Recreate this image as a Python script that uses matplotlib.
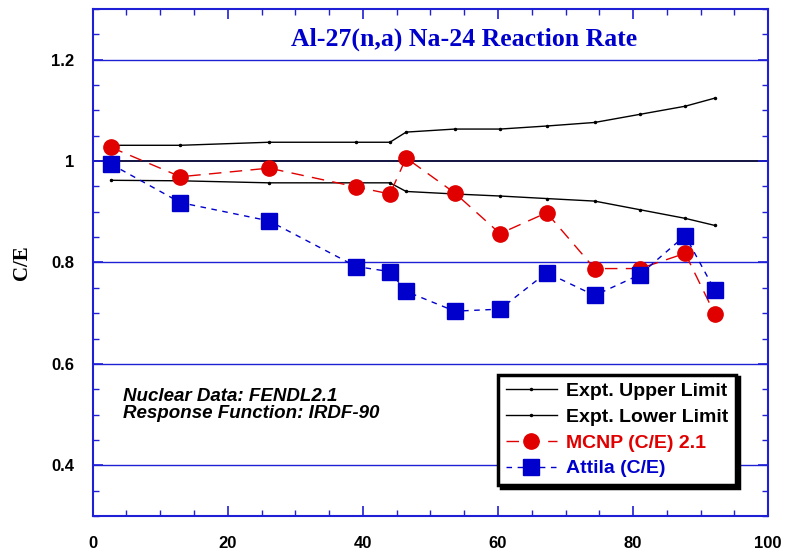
import matplotlib.pyplot as plt
from matplotlib.ticker import MultipleLocator

# position along the x axis
x = [2.7, 13.0, 26.1, 39.0, 44.0, 46.4, 53.6, 60.3, 67.2, 74.3, 81.0, 87.7, 92.1]

upper = [1.031, 1.031, 1.037, 1.037, 1.037, 1.057, 1.063, 1.063, 1.069, 1.076, 1.092, 1.108, 1.124]
lower = [0.962, 0.961, 0.957, 0.957, 0.957, 0.940, 0.935, 0.931, 0.926, 0.921, 0.904, 0.887, 0.873]
mcnp = [1.027, 0.969, 0.986, 0.949, 0.935, 1.006, 0.937, 0.857, 0.898, 0.788, 0.788, 0.818, 0.698]
attila = [0.994, 0.918, 0.882, 0.792, 0.782, 0.743, 0.704, 0.708, 0.780, 0.735, 0.776, 0.853, 0.745]

frame_blue = "#1f1fd6"
serif = ["Liberation Serif", "DejaVu Serif"]
sans = ["Liberation Sans", "DejaVu Sans"]


def main():
    fig = plt.figure(figsize=(7.92, 5.52), dpi=100)
    ax = fig.add_axes([0.117, 0.065, 0.853, 0.919])

    for yv in [0.4, 0.6, 0.8, 1.2]:
        ax.axhline(yv, color=frame_blue, lw=1.0, zorder=1)
    ax.axhline(1.0, color="#000033", lw=1.3, zorder=1)

    ax.plot(x, upper, color="black", lw=1.0, marker="o", ms=1.5, label="Expt. Upper Limit", zorder=2)
    ax.plot(x, lower, color="black", lw=1.0, marker="o", ms=1.5, label="Expt. Lower Limit", zorder=2)
    ax.plot(x, mcnp, color="#e00000", lw=1.0, dashes=(9, 6), marker="o", ms=11,
            label="MCNP (C/E) 2.1", zorder=3)
    ax.plot(x, attila, color="#0000cc", lw=1.0, dashes=(4, 4), marker="s", ms=11,
            label="Attila (C/E)", zorder=3)

    ax.set_xlim(0, 100)
    ax.set_ylim(0.3, 1.3)
    ax.xaxis.set_minor_locator(MultipleLocator(5))
    ax.yaxis.set_minor_locator(MultipleLocator(0.05))
    ax.set_yticks([0.4, 0.6, 0.8, 1.0, 1.2])
    ax.set_yticklabels(["0.4", "0.6", "0.8", "1", "1.2"])
    ax.set_xticks([0, 20, 40, 60, 80, 100])

    ax.tick_params(which="both", direction="in", top=True, right=True, color=frame_blue)
    ax.tick_params(which="major", length=7.5, width=1.2)
    ax.tick_params(which="minor", length=4, width=1.0)
    ax.tick_params(axis="x", which="major", pad=14)
    ax.tick_params(axis="y", which="major", pad=13)
    for lab in ax.get_xticklabels() + ax.get_yticklabels():
        lab.set_fontfamily(sans)
        lab.set_fontweight("bold")
        lab.set_fontsize(12)
    for sp in ax.spines.values():
        sp.set_color(frame_blue)
        sp.set_linewidth(1.5)

    ax.set_ylabel("C/E", fontfamily=serif, fontweight="bold", fontsize=15, labelpad=14)
    ax.text(55, 1.239, "Al-27(n,a) Na-24 Reaction Rate", color="#0000cc", fontfamily=serif,
            fontweight="bold", fontsize=18.5, ha="center", va="center")

    ax.text(4.5, 0.519, "Nuclear Data: FENDL2.1\nResponse Function: IRDF-90", fontfamily=sans,
            fontweight="bold", fontstyle="italic", fontsize=13.5, ha="left", va="center", linespacing=1.0)

    leg = ax.legend(loc="lower right", bbox_to_anchor=(0.953, 0.061), borderaxespad=0, fancybox=False,
                    shadow={"color": "black", "alpha": 1},
                    edgecolor="black", framealpha=1, borderpad=0.4, handlelength=2.6,
                    labelspacing=0.42, handletextpad=0.5,
                    prop={"family": sans, "weight": "bold", "size": 14})
    leg.get_frame().set_linewidth(2.5)
    for txt, c in zip(leg.get_texts(), ["black", "black", "#e00000", "#0000cc"]):
        txt.set_color(c)

    fig.savefig("out.png", dpi=100)


if __name__ == "__main__":
    main()
